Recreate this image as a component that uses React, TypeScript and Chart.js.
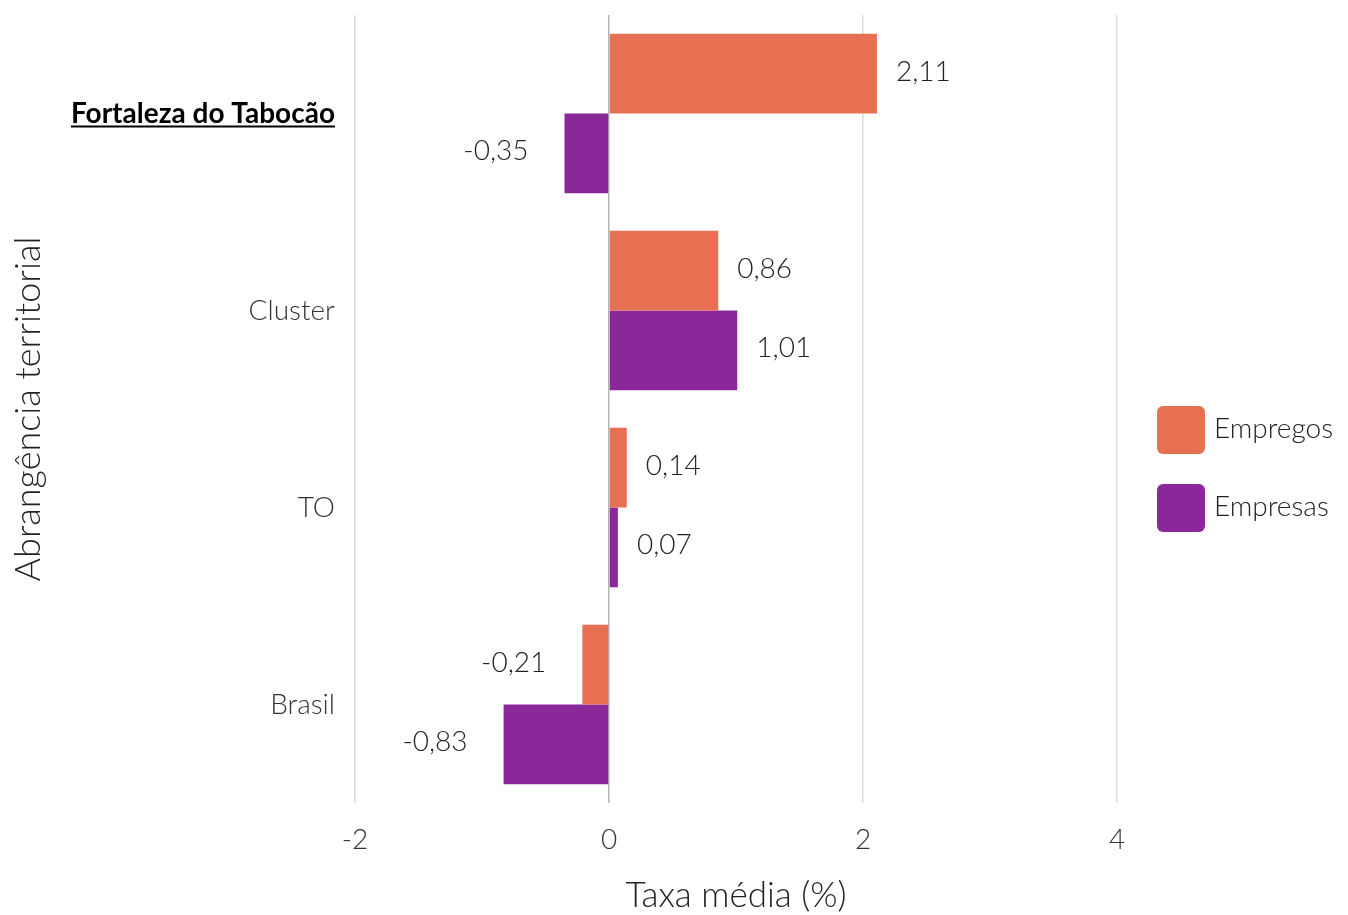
import React, { useEffect, useRef } from 'react';
import { Chart, registerables } from 'chart.js';

Chart.register(...registerables);

const categories = ['Fortaleza do Tabocão', 'Cluster', 'TO', 'Brasil'];
const seriesNames = ['Empregos', 'Empresas'];
const empregos = [2.11, 0.86, 0.14, -0.21];
const empresas = [-0.35, 1.01, 0.07, -0.83];
const xTicks = [-2, 0, 2, 4];
const seriesColors = ['#E77052', '#8B2899'];

const FONT = 'Lato, "Noto Sans", sans-serif';

const valueLabels = {
  id: 'valueLabels',
  afterDatasetsDraw(chart: any) {
    const ctx = chart.ctx;
    ctx.save();
    ctx.font = `300 28px ${FONT}`;
    ctx.fillStyle = '#222222';
    ctx.textBaseline = 'middle';
    chart.data.datasets.forEach((ds: any, di: number) => {
      const meta = chart.getDatasetMeta(di);
      meta.data.forEach((el: any, i: number) => {
        const v = ds.data[i] as number;
        const txt = v.toFixed(2).replace('.', ',');
        if (v >= 0) {
          ctx.textAlign = 'left';
          ctx.fillText(txt, el.x + 19, el.y - 2);
        } else {
          ctx.textAlign = 'right';
          ctx.fillText(txt, el.x - 36, el.y - 2);
        }
      });
    });
    ctx.restore();
  },
};

const underlineFirst = {
  id: 'underlineFirst',
  afterDraw(chart: any) {
    const ctx = chart.ctx;
    const ys = chart.scales.y;
    const y = ys.getPixelForTick(0);
    ctx.save();
    ctx.font = `bold 28px ${FONT}`;
    const w = ctx.measureText(categories[0]).width;
    const right = ys.right - 10;
    ctx.strokeStyle = '#000000';
    ctx.lineWidth = 2;
    ctx.beginPath();
    ctx.moveTo(right - w, y + 13);
    ctx.lineTo(right, y + 13);
    ctx.stroke();
    ctx.restore();
  },
};

const customLegend = {
  id: 'customLegend',
  afterDraw(chart: any) {
    const ctx = chart.ctx;
    const x = chart.chartArea.right + 30;
    const cy = (chart.chartArea.top + chart.height) / 2 + 4;
    const step = 78;
    ctx.save();
    chart.data.datasets.forEach((ds: any, i: number) => {
      const yc = cy + (i - 0.5) * step;
      ctx.fillStyle = ds.backgroundColor;
      ctx.beginPath();
      (ctx as any).roundRect(x, yc - 24, 48, 48, 6);
      ctx.fill();
      ctx.fillStyle = '#222222';
      ctx.font = `300 28px ${FONT}`;
      ctx.textAlign = 'left';
      ctx.textBaseline = 'middle';
      ctx.fillText(ds.label, x + 57, yc - 1);
    });
    ctx.restore();
  },
};

export default function App() {
  const ref = useRef<HTMLCanvasElement>(null);

  useEffect(() => {
    if (!ref.current) return;
    const chart = new Chart(ref.current, {
      type: 'bar',
      data: {
        labels: categories,
        datasets: [
          { label: seriesNames[0], data: empregos, backgroundColor: seriesColors[0], categoryPercentage: 0.81, barPercentage: 1 },
          { label: seriesNames[1], data: empresas, backgroundColor: seriesColors[1], categoryPercentage: 0.81, barPercentage: 1 },
        ],
      },
      options: {
        indexAxis: 'y',
        animation: false,
        responsive: false,
        devicePixelRatio: 1,
        layout: { padding: { top: 15, right: 221, left: 0, bottom: 0 } },
        plugins: {
          legend: { display: false },
          tooltip: { enabled: false },
        },
        scales: {
          x: {
            type: 'linear',
            min: -2 - 10 / 127,
            max: 4 + 10 / 127,
            afterBuildTicks: (scale: any) => {
              scale.ticks = xTicks.map((v) => ({ value: v }));
            },
            afterFit: (scale: any) => {
              scale.height = 112;
              scale.paddingLeft = 0;
              scale.paddingRight = 0;
            },
            border: { display: false },
            grid: {
              drawTicks: false,
              lineWidth: 1.5,
              color: (c: any) => (c.tick && c.tick.value === 0 ? '#b5b5b5' : '#dcdcdc'),
            },
            ticks: {
              padding: 20,
              color: '#333333',
              font: { family: FONT, size: 28, weight: '300' as any },
              callback: (v: any) => String(v),
            },
            title: {
              display: true,
              text: 'Taxa média (%)',
              color: '#222222',
              font: { family: FONT, size: 35, weight: '300' as any, lineHeight: 1.1 },
              padding: { top: 0, bottom: 0 },
            },
          },
          y: {
            type: 'category',
            offset: true,
            afterFit: (scale: any) => {
              scale.width = 345;
              scale.paddingTop = 0;
              scale.paddingBottom = 0;
            },
            border: { display: false },
            grid: { display: false, drawTicks: false },
            ticks: {
              padding: 10,
              color: (c: any) => (c.index === 0 ? '#000000' : '#333333'),
              font: (c: any) =>
                c.index === 0
                  ? { family: FONT, size: 28, weight: 'bold' as any }
                  : { family: FONT, size: 28, weight: '300' as any },
            },
            title: {
              display: true,
              text: 'Abrangência territorial',
              color: '#222222',
              font: { family: FONT, size: 36, weight: '300' as any, lineHeight: 1.2 },
              padding: { top: 7, bottom: 0 },
            },
          },
        },
      },
      plugins: [valueLabels, underlineFirst, customLegend],
    });
    return () => chart.destroy();
  }, []);

  return (
    <div style={{ position: 'absolute', left: 0, top: 0, width: 1348, height: 915, background: '#ffffff' }}>
      <canvas ref={ref} width={1348} height={915} style={{ width: 1348, height: 915, display: 'block' }} />
    </div>
  );
}
